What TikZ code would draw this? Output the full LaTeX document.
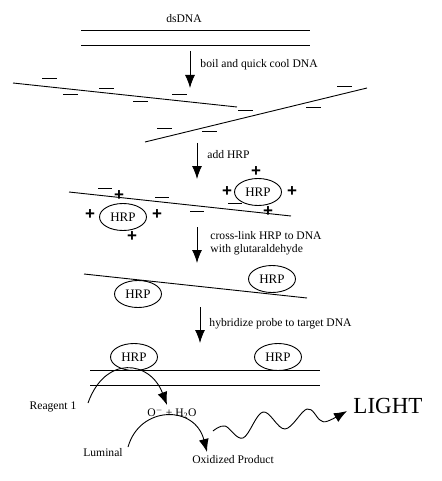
\documentclass[tikz,border=0pt]{standalone}
\usepackage{fontspec}
\setmainfont{Liberation Serif}
\newfontfamily\chargefont{Liberation Sans}
\usepackage{tikz}
\usetikzlibrary{shapes,arrows.meta,positioning,calc}
\tikzstyle{steptext} = [anchor=west, inner sep=0pt, font=\fontsize{11.6}{13}\selectfont]
\tikzstyle{tag} = [inner sep=0pt, font=\fontsize{11.6}{13}\selectfont]
\tikzstyle{hrp} = [draw, ellipse, minimum width=47pt, minimum height=27pt,
    inner sep=0pt, font=\fontsize{13}{13}\selectfont]
\tikzstyle{plus} = [inner sep=0pt, font=\fontsize{17}{17}\selectfont\chargefont\bfseries]
\tikzstyle{strand} = [line width=0.9pt]
\tikzstyle{connector} = [line width=0.9pt, -{Latex[length=13pt,width=10pt]}]

\begin{document}
\begin{tikzpicture}[x=1pt, y=-1pt, line width=0.9pt]
    \useasboundingbox (0,0) rectangle (441,481);

    % double stranded DNA
    \node (ds) [tag] at (184,19) {dsDNA};
    \draw [strand] (81,30) -- (310,30);
    \draw [strand] (81,45) -- (310,45);
    \coordinate (boilTop) at (190,51);
    \coordinate (boilEnd) at (190,88);
    \draw [connector] (boilTop) -- (boilEnd);
    \node (boil) [steptext] at (200,65) {boil and quick cool DNA};

    % single strands with negative charges
    \draw [strand] (13,83) -- (237,107);
    \draw [strand] (145,142) -- (367,88);
    \foreach \x/\y in {42/78, 63/94, 99/88, 133/101, 172/94, 238/110,
                       306/107, 337/86, 157/128, 202/131}
        \draw [strand] (\x,\y) -- ++(15,0);

    \coordinate (addTop) at (197,143);
    \coordinate (addEnd) at (197,179);
    \draw [connector] (addTop) -- (addEnd);
    \node (add) [steptext] at (207,155) {add HRP};

    % HRP binds to the strand
    \draw [strand] (69,192) -- (291,216);
    \node (hrpA) [hrp] at (123,217) {HRP};
    \node (hrpB) [hrp] at (258,192) {HRP};
    \foreach \x/\y in {90/215, 157/215, 119/196, 132/237,
                       256/172, 227/192, 292/192, 268/212}
        \node [plus] at (\x,\y) {+};
    \foreach \x/\y in {98/188, 155/197, 190/211, 228/203}
        \draw [strand] (\x,\y) -- ++(14,0);

    \coordinate (linkTop) at (197,227);
    \coordinate (linkEnd) at (197,263);
    \draw [connector] (linkTop) -- (linkEnd);
    \node (link) [steptext, anchor=north west, align=left] at (210,231)
        {cross-link HRP to DNA\\with glutaraldehyde};

    % labelled probe
    \draw [strand] (84,274) -- (307,298);
    \node (probeA) [hrp] at (138,294) {HRP};
    \node (probeB) [hrp] at (272,279) {HRP};

    \coordinate (hybTop) at (200,307);
    \coordinate (hybEnd) at (200,343);
    \draw [connector] (hybTop) -- (hybEnd);
    \node (hyb) [steptext] at (209,324) {hybridize probe to target DNA};

    % probe on target DNA
    \node (targetA) [hrp] at (134,357) {HRP};
    \node (targetB) [hrp] at (278,357) {HRP};
    \draw [strand] (90,370) -- (320,370);
    \draw [strand] (90,385) -- (320,385);

    % detection
    \node (reagent) [tag] at (53,407) {Reagent 1};
    \node (oxy) [tag] at (172,413) {O\textsuperscript{$-$} + H\textsubscript{2}O};
    \node (luminal) [tag] at (103,453) {Luminal};
    \node (product) [tag] at (233,460) {Oxidized Product};
    \node (light) [anchor=west, inner sep=0pt, font=\fontsize{23}{23}\selectfont] at (353,406) {LIGHT};

    \coordinate (reagentEnd) at (88,403);
    \coordinate (oxyTop) at (167,405);
    \coordinate (luminalEnd) at (128,447);
    \coordinate (productTop) at (207,452);
    \coordinate (waveStart) at (213,431);

    \draw [connector] (reagentEnd) .. controls (105,355) and (150,360) .. (oxyTop);
    \draw [connector] (luminalEnd) .. controls (140,405) and (195,405) .. (productTop);
    \draw [connector] plot [smooth, tension=0.6] coordinates {(waveStart) (225,426) (243,438)
        (263,412) (285,429) (307,409) (320,420) (328,421) ($(light.west)+(-6,5)$)};
\end{tikzpicture}
\end{document}
